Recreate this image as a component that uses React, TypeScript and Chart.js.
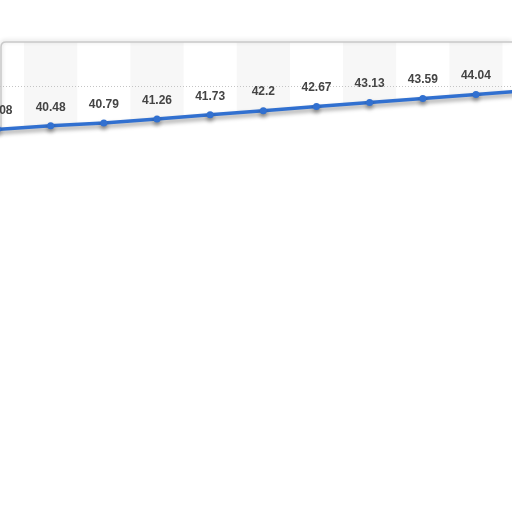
import { useEffect, useRef } from "react";
import { Chart, registerables } from "chart.js";

Chart.register(...registerables);

// values; first and last are only partly visible
const values = [40.08, 40.48, 40.79, 41.26, 41.73, 42.2, 42.67, 43.13, 43.59, 44.04, 44.5];
const gridValues = [45];
const yMin = 0;
const yMax = 50;

const lineBlue = "#3170d0";

const framePlugin = {
	id: "frame",
	beforeDatasetsDraw(chart: any) {
		const { ctx, chartArea } = chart;
		const xs = chart.scales.x;
		const ys = chart.scales.y;
		const pts = chart.getDatasetMeta(0).data;
		if (!pts.length) return;

		ctx.save();
		// region above the line
		ctx.beginPath();
		ctx.moveTo(pts[0].x, chartArea.top);
		ctx.lineTo(pts[pts.length - 1].x, chartArea.top);
		for (let i = pts.length - 1; i >= 0; i--) ctx.lineTo(pts[i].x, pts[i].y);
		ctx.closePath();
		ctx.clip();

		// alternating column bands
		ctx.fillStyle = "#f7f7f7";
		values.forEach((_, i) => {
			if (i % 2 === 0) return;
			const x0 = xs.getPixelForValue(i - 0.5);
			const x1 = xs.getPixelForValue(i + 0.5);
			ctx.fillRect(x0, chartArea.top, x1 - x0, chartArea.bottom - chartArea.top);
		});

		// dotted gridline
		ctx.strokeStyle = "#c4c4c4";
		ctx.lineWidth = 1;
		ctx.setLineDash([1, 2]);
		gridValues.forEach((v) => {
			const y = Math.round(ys.getPixelForValue(v)) + 0.5;
			ctx.beginPath();
			ctx.moveTo(chartArea.left, y);
			ctx.lineTo(chartArea.right, y);
			ctx.stroke();
		});
		ctx.restore();

		// card top and left edge
		ctx.save();
		const top = ys.getPixelForValue(yMax);
		ctx.strokeStyle = "#c9c9c9";
		ctx.lineWidth = 1.5;
		ctx.shadowColor = "rgba(0,0,0,0.2)";
		ctx.shadowBlur = 4;
		ctx.shadowOffsetY = -1;
		ctx.beginPath();
		ctx.moveTo(1, pts[1].y + 4);
		ctx.lineTo(1, top + 5);
		ctx.quadraticCurveTo(1, top, 6, top);
		ctx.lineTo(chartArea.right, top);
		ctx.stroke();
		ctx.restore();
	},
	beforeDatasetDraw(chart: any) {
		const ctx = chart.ctx;
		ctx.save();
		ctx.shadowColor = "rgba(0,0,0,0.38)";
		ctx.shadowBlur = 4;
		ctx.shadowOffsetY = 3;
	},
	afterDatasetDraw(chart: any) {
		chart.ctx.restore();
	},
	afterDatasetsDraw(chart: any) {
		const { ctx } = chart;
		const pts = chart.getDatasetMeta(0).data;
		ctx.save();
		ctx.font = "bold 12px 'Liberation Sans', Arial, sans-serif";
		ctx.fillStyle = "#444444";
		ctx.textAlign = "center";
		ctx.textBaseline = "middle";
		pts.forEach((p: any, i: number) => {
			ctx.fillText(String(values[i]), p.x, p.y - 18.5);
		});
		ctx.restore();
	}
};

export default function App() {
	const canvasRef = useRef<HTMLCanvasElement>(null);

	useEffect(() => {
		if (!canvasRef.current) return;
		const chart = new Chart(canvasRef.current, {
			type: "line",
			data: {
				datasets: [
					{
						data: values.map((v, i) => ({ x: i, y: v })),
						borderColor: lineBlue,
						backgroundColor: lineBlue,
						borderWidth: 3.5,
						pointRadius: 3.5,
						pointBorderWidth: 0,
						tension: 0,
						fill: false
					}
				]
			},
			options: {
				animation: false,
				responsive: true,
				maintainAspectRatio: false,
				layout: { autoPadding: false, padding: { top: 42, bottom: 30, left: 0, right: 0 } },
				plugins: {
					legend: { display: false },
					tooltip: { enabled: false }
				},
				scales: {
					x: { type: "linear", min: 0.047, max: 9.678, display: false },
					y: { min: yMin, max: yMax, display: false }
				}
			},
			plugins: [framePlugin]
		});
		return () => chart.destroy();
	}, []);

	return (
		<div style={{ position: "absolute", left: 0, top: 0, width: 512, height: 512, background: "#fff" }}>
			<canvas ref={canvasRef} style={{ width: "100%", height: "100%" }} />
		</div>
	);
}
